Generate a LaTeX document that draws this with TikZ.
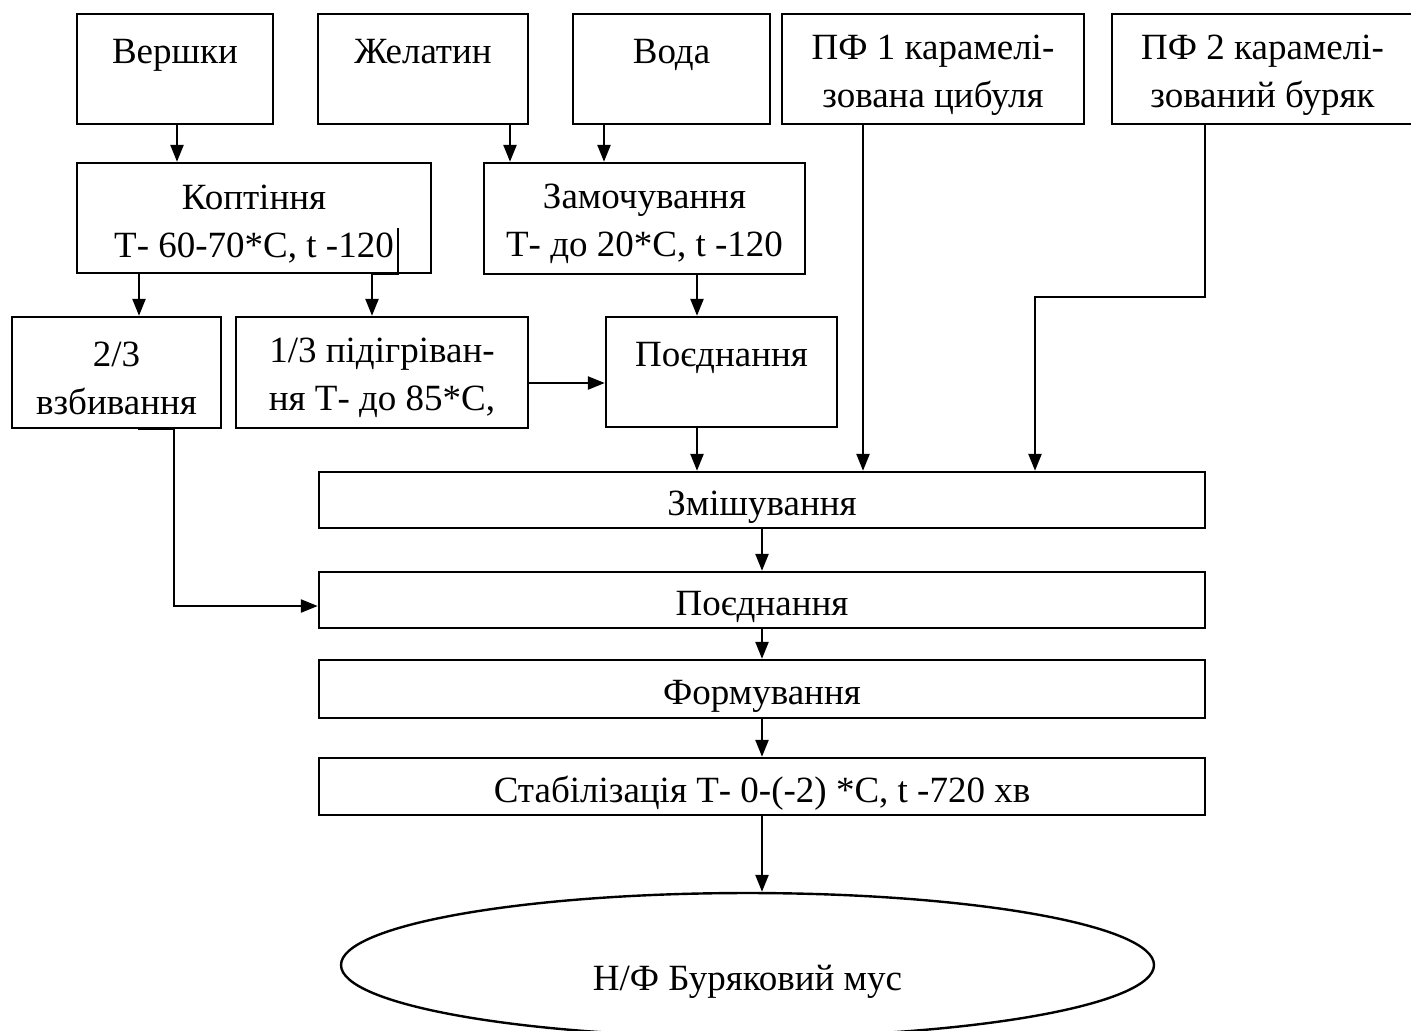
\documentclass[tikz,border=0pt]{standalone}
\usepackage{fontspec}
\setmainfont{Liberation Serif}
\usetikzlibrary{arrows.meta,shapes.geometric}

\begin{document}
\begin{tikzpicture}[x=0.5pt, y=-0.5pt,
    box/.style={draw, line width=1.2pt, inner sep=0pt, align=center,
      font=\fontsize{18.5}{24}\selectfont, text height=19.5pt},
    twoline/.style={text height=42pt},
    flow/.style={line width=1.2pt, -{Triangle[length=8.5pt,width=6.5pt]}}]
  \useasboundingbox (0,0) rectangle (1411,1030);
  % Raw materials
  \node[box, twoline, minimum width=98pt, minimum height=55pt] (vershky) at (175,69) {Вершки\\\mbox{}};
  \node[box, twoline, minimum width=105pt, minimum height=55pt] (zhelatyn) at (423,69) {Желатин\\\mbox{}};
  \node[box, twoline, minimum width=98.5pt, minimum height=55pt] (voda) at (671.5,69) {Вода\\\mbox{}};
  \node[box, twoline, minimum width=151pt, minimum height=55pt] (pf1) at (933,69) {ПФ 1 карамелі-\\зована цибуля};
  \node[box, twoline, minimum width=150.5pt, minimum height=55pt] (pf2) at (1262.5,69) {ПФ 2 карамелі-\\зований буряк};
  % Processing
  \node[box, twoline, minimum width=177pt, minimum height=55pt] (koptinnya) at (254,218) {Коптіння\\Т- 60-70*С, t -120};
  \node[box, twoline, minimum width=160.5pt, minimum height=55.5pt] (zamochuvannya) at (644.5,218.5) {Замочування\\Т- до 20*С, t -120};
  \node[box, twoline, minimum width=104.5pt, minimum height=55.5pt] (zbyvannya) at (116.5,372.5) {2/3\\взбивання};
  \node[box, twoline, minimum width=146pt, minimum height=55.5pt] (pidigrivannya) at (382,372.5) {1/3 підігріван-\\ня Т- до 85*С,};
  \node[box, twoline, minimum width=115.5pt, minimum height=55pt] (poednannya) at (721.5,372) {Поєднання\\\mbox{}};
  \node[box, minimum width=443pt, minimum height=28pt] (zmishuvannya) at (762,500) {Змішування};
  \node[box, minimum width=443pt, minimum height=28pt] (zpoednannya) at (762,600) {Поєднання};
  \node[box, minimum width=443pt, minimum height=29pt] (formuvannya) at (762,689) {Формування};
  \node[box, minimum width=443pt, minimum height=28.5pt] (stabilizatsiya) at (762,786.5) {Стабілізація Т- 0-(-2) *С, t -720 хв};
  % Product
  \node[box, ellipse, minimum width=406.5pt, minimum height=72pt] (mus) at (747.5,965)
    {\raisebox{-5pt}[\height][\depth]{Н/Ф Буряковий мус}};
  % Connectors
  \coordinate (kstart) at (398,228);
  \draw[flow] (177,0 |- vershky.south) -- (177,0 |- koptinnya.north);
  \draw[flow] (510,0 |- zhelatyn.south) -- (510,0 |- zamochuvannya.north);
  \draw[flow] (604,0 |- voda.south) -- (604,0 |- zamochuvannya.north);
  \draw[flow] (139,0 |- koptinnya.south) -- (139,0 |- zbyvannya.north);
  \draw[flow] (kstart) -- (kstart |- koptinnya.south) -| (372,0 |- pidigrivannya.north);
  \draw[flow] (697,0 |- zamochuvannya.south) -- (697,0 |- poednannya.north);
  \draw[flow] (pidigrivannya.east |- 0,383) -- (poednannya.west |- 0,383);
  \draw[flow] (697,0 |- poednannya.south) -- (697,0 |- zmishuvannya.north);
  \draw[flow] (863,0 |- pf1.south) -- (863,0 |- zmishuvannya.north);
  \draw[flow] (1205,0 |- pf2.south) -- (1205,297) -| (1035,0 |- zmishuvannya.north);
  \draw[flow] (zmishuvannya) -- (zpoednannya);
  \draw[flow] (138,0 |- zbyvannya.south) -- (174,0 |- zbyvannya.south) |- (zpoednannya.west |- 0,606);
  \draw[flow] (zpoednannya) -- (formuvannya);
  \draw[flow] (formuvannya) -- (stabilizatsiya);
  \draw[flow] (762,0 |- stabilizatsiya.south) -- (762,0 |- mus.north);
\end{tikzpicture}
\end{document}
